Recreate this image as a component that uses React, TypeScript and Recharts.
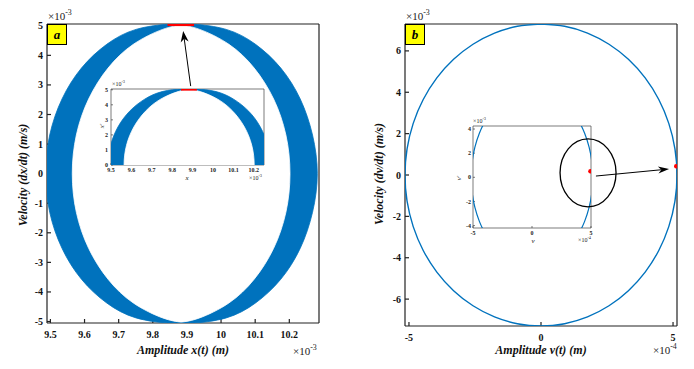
import React from 'react';
import { ScatterChart, Scatter, XAxis, YAxis, ReferenceDot, Curve } from 'recharts';

const BLUE = '#0072BD';
const RED = '#FF0000';
const SERIF = '"Liberation Serif", "Times New Roman", serif';

// ---- panel a : x(t) [x1e-3 m] vs dx/dt [x1e-3 m/s] ----
const aXTicks = [9.5, 9.6, 9.7, 9.8, 9.9, 10, 10.1, 10.2];
const aYTicks = [-5, -4, -3, -2, -1, 0, 1, 2, 3, 4, 5];
const aInsetYTicks = [0, 1, 2, 3, 4, 5];

// outer edge of the band (right / left halves)
const aOuterRight = [
  [9.883, 5.05], [9.922, 5.05], [10.015, 4.878], [10.101, 4.373], [10.175, 3.571], [10.232, 2.525],
  [10.268, 1.307], [10.282, 0], [10.268, -1.307], [10.232, -2.525], [10.175, -3.571], [10.101, -4.373],
  [10.015, -4.878], [9.922, -5.05], [9.883, -5.05],
];
const aOuterLeft = [
  [9.883, 5.05], [9.844, 5.05], [9.751, 4.878], [9.665, 4.373], [9.591, 3.571], [9.534, 2.525],
  [9.498, 1.307], [9.486, 0], [9.498, -1.307], [9.534, -2.525], [9.591, -3.571], [9.665, -4.373],
  [9.751, -4.878], [9.844, -5.05], [9.883, -5.05],
];
// inner (empty) region of the band
const aInnerRight = [
  [9.883, 5.02], [9.937, 4.878], [10.023, 4.373], [10.097, 3.571], [10.154, 2.525], [10.19, 1.307],
  [10.202, 0], [10.19, -1.307], [10.154, -2.525], [10.097, -3.571], [10.023, -4.373], [9.937, -4.878],
  [9.883, -5.02],
];
const aInnerLeft = [
  [9.883, 5.02], [9.829, 4.878], [9.743, 4.373], [9.669, 3.571], [9.612, 2.525], [9.576, 1.307],
  [9.564, 0], [9.576, -1.307], [9.612, -2.525], [9.669, -3.571], [9.743, -4.373], [9.829, -4.878],
  [9.883, -5.02],
];
const aRedSegment = [[9.843, 5.04], [9.921, 5.04]];
const aArrow = [[9.911, 2.96], [9.889, 4.82]];

// ---- panel b : v(t) [x1e-4 m] vs dv/dt [x1e-3 m/s] ----
const bXTicks = [-5, 0, 5];
const bYTicks = [-6, -4, -2, 0, 2, 4, 6];
const bInsetYTicks = [-4, -2, 0, 2, 4];
const bOrbit = [
  [0, 7.3], [0.894, 7.189], [1.761, 6.86], [2.575, 6.322], [3.31, 5.592], [3.945, 4.692],
  [4.46, 3.65], [4.839, 2.497], [5.072, 1.268], [5.15, 0], [5.072, -1.268], [4.839, -2.497],
  [4.46, -3.65], [3.945, -4.692], [3.31, -5.592], [2.575, -6.322], [1.761, -6.86], [0.894, -7.189],
  [0, -7.3], [-0.894, -7.189], [-1.761, -6.86], [-2.575, -6.322], [-3.31, -5.592], [-3.945, -4.692],
  [-4.46, -3.65], [-4.839, -2.497], [-5.072, -1.268], [-5.15, 0], [-5.072, 1.268], [-4.839, 2.497],
  [-4.46, 3.65], [-3.945, 4.692], [-3.31, 5.592], [-2.575, 6.322], [-1.761, 6.86], [-0.894, 7.189],
  [0, 7.3],
];
const bRedPoint = [[5.12, 0.42]];
const bInsetRedPoint = [[4.95, 0.5]];
const bInsetCircle = [4.75, 0.37];
const bArrow = [[2.08, -0.05], [4.85, 0.29]];

const pts = (a: number[][]) => a.map(([x, y]) => ({ x, y }));
const fmt = (v: number) => String(Math.round(v * 10) / 10);
const noDot = () => <g />;
const redDot = (p: any) => <circle cx={p.cx} cy={p.cy} r={2.2} fill={RED} />;

const frame = { stroke: '#222', strokeWidth: 1.2 };
const thin = { stroke: '#444', strokeWidth: 0.7 };
const tickMain = { fill: '#111', fontSize: 10, fontWeight: 'bold', fontFamily: SERIF };
const tickSmall = { fill: '#222', fontSize: 6, fontWeight: 'bold', fontFamily: SERIF };

// filled half-shape, with its closing chord painted too so two halves join without a seam
const halfShape = (color: string) => (p: any) => {
  const a = p.points[0];
  const b = p.points[p.points.length - 1];
  return (
    <g>
      <Curve points={p.points} type="natural" fill={color} stroke={color} strokeWidth={0.8} />
      <line x1={a.x} y1={a.y} x2={b.x} y2={b.y} stroke={color} strokeWidth={1.6} />
    </g>
  );
};

// annotation arrow drawn through the two points of a tiny series
const arrowLine = (head: number, half: number) => (p: any) => {
  const s = p.points[0];
  const e = p.points[1];
  const len = Math.hypot(e.x - s.x, e.y - s.y) || 1;
  const ux = (e.x - s.x) / len;
  const uy = (e.y - s.y) / len;
  const bx = e.x - ux * head;
  const by = e.y - uy * head;
  const nx = e.x - ux * head * 0.7;
  const ny = e.y - uy * head * 0.7;
  const poly = `${e.x},${e.y} ${bx - uy * half},${by + ux * half} ${nx},${ny} ${bx + uy * half},${by - ux * half}`;
  return (
    <g>
      <line x1={s.x} y1={s.y} x2={nx} y2={ny} stroke="#000" strokeWidth={1} />
      <polygon points={poly} fill="#000" />
    </g>
  );
};

function BandSeries() {
  return [
    <Scatter key="or" data={pts(aOuterRight)} isAnimationActive={false} shape={noDot} line={halfShape(BLUE)} />,
    <Scatter key="ol" data={pts(aOuterLeft)} isAnimationActive={false} shape={noDot} line={halfShape(BLUE)} />,
    <Scatter key="ir" data={pts(aInnerRight)} isAnimationActive={false} shape={noDot} line={halfShape('#fff')} />,
    <Scatter key="il" data={pts(aInnerLeft)} isAnimationActive={false} shape={noDot} line={halfShape('#fff')} />,
    <Scatter key="red" data={pts(aRedSegment)} isAnimationActive={false} shape={noDot}
      line={{ stroke: RED, strokeWidth: 3, fill: 'none' }} />,
  ];
}

function Exp({ left, top, p, size = 11 }: { left: number; top: number; p: string; size?: number }) {
  return (
    <div style={{ position: 'absolute', left, top, fontFamily: SERIF, fontSize: size, lineHeight: 1, whiteSpace: 'nowrap', color: '#222' }}>
      ×10<span style={{ fontSize: size * 0.72, position: 'relative', top: -size * 0.45 }}>{p}</span>
    </div>
  );
}

function Title({ cx, cy, text, vertical, size = 12, italic = true, bold = true }: any) {
  return (
    <div style={{
      position: 'absolute', left: cx - 100, top: cy - 7, width: 200, height: 14, lineHeight: '14px',
      textAlign: 'center', fontFamily: SERIF, fontSize: size, fontStyle: italic ? 'italic' : 'normal',
      fontWeight: bold ? 'bold' : 'normal', color: '#111', whiteSpace: 'nowrap',
      transform: vertical ? 'rotate(-90deg)' : undefined,
    }}>{text}</div>
  );
}

function Tag({ left, text }: { left: number; text: string }) {
  return (
    <div style={{
      position: 'absolute', left, top: 24, width: 18, height: 19, background: '#FFFF00',
      border: '1.5px solid #000', fontFamily: SERIF, fontWeight: 'bold', fontStyle: 'italic',
      fontSize: 13, lineHeight: '19px', textAlign: 'center',
    }}>{text}</div>
  );
}

function PanelA() {
  const xd: [number, number] = [9.49, 10.287];
  const yd: [number, number] = [-5.05, 5.06];
  return (
    <ScatterChart width={340} height={369} margin={{ top: 23, right: 20, bottom: 0, left: 0 }}>
      <XAxis type="number" dataKey="x" domain={xd} allowDataOverflow ticks={aXTicks} interval={0}
        tickFormatter={fmt} tickSize={-4} tickMargin={12} height={46} axisLine={frame} tickLine={frame} tick={tickMain} />
      <XAxis xAxisId="top" orientation="top" type="number" dataKey="x" domain={xd} allowDataOverflow ticks={aXTicks}
        interval={0} tick={false} tickSize={-4} height={1} axisLine={frame} tickLine={frame} />
      <YAxis type="number" dataKey="y" domain={yd} allowDataOverflow ticks={aYTicks} interval={0}
        tickSize={-4} tickMargin={8} width={47} axisLine={frame} tickLine={frame} tick={tickMain} />
      <YAxis yAxisId="right" orientation="right" type="number" dataKey="y" domain={yd} allowDataOverflow ticks={aYTicks}
        interval={0} tick={false} tickSize={-4} width={1} axisLine={frame} tickLine={frame} />
      {BandSeries()}
      <Scatter data={pts(aArrow)} isAnimationActive={false} shape={noDot} line={arrowLine(11, 4)} />
    </ScatterChart>
  );
}

function InsetA() {
  const xd: [number, number] = [9.5, 10.25];
  const yd: [number, number] = [0, 5.05];
  return (
    <ScatterChart width={190} height={100} margin={{ top: 8, right: 15, bottom: 0, left: 0 }}>
      <XAxis type="number" dataKey="x" domain={xd} allowDataOverflow ticks={aXTicks} interval={0}
        tickFormatter={fmt} tickSize={-2} tickMargin={5} height={15} axisLine={thin} tickLine={thin} tick={tickSmall} />
      <XAxis xAxisId="top" orientation="top" type="number" dataKey="x" domain={xd} allowDataOverflow ticks={aXTicks}
        interval={0} tick={false} tickSize={-2} height={1} axisLine={thin} tickLine={thin} />
      <YAxis type="number" dataKey="y" domain={yd} allowDataOverflow ticks={aInsetYTicks} interval={0}
        tickSize={-2} tickMargin={5} width={21} axisLine={thin} tickLine={thin} tick={tickSmall} />
      <YAxis yAxisId="right" orientation="right" type="number" dataKey="y" domain={yd} allowDataOverflow
        ticks={aInsetYTicks} interval={0} tick={false} tickSize={-2} width={1} axisLine={thin} tickLine={thin} />
      {BandSeries()}
    </ScatterChart>
  );
}

function PanelB() {
  const xd: [number, number] = [-5.15, 5.15];
  const yd: [number, number] = [-7.3, 7.3];
  return (
    <ScatterChart width={336} height={369} margin={{ top: 23, right: 16, bottom: 0, left: 0 }}>
      <XAxis type="number" dataKey="x" domain={xd} allowDataOverflow ticks={bXTicks} interval={0}
        tickSize={-4} tickMargin={12} height={43} axisLine={frame} tickLine={frame} tick={tickMain} />
      <XAxis xAxisId="top" orientation="top" type="number" dataKey="x" domain={xd} allowDataOverflow ticks={bXTicks}
        interval={0} tick={false} tickSize={-4} height={1} axisLine={frame} tickLine={frame} />
      <YAxis type="number" dataKey="y" domain={yd} allowDataOverflow ticks={bYTicks} interval={0}
        tickSize={-4} tickMargin={8} width={47} axisLine={frame} tickLine={frame} tick={tickMain} />
      <YAxis yAxisId="right" orientation="right" type="number" dataKey="y" domain={yd} allowDataOverflow ticks={bYTicks}
        interval={0} tick={false} tickSize={-4} width={1} axisLine={frame} tickLine={frame} />
      <Scatter data={pts(bOrbit)} isAnimationActive={false} shape={noDot}
        line={{ stroke: BLUE, strokeWidth: 1.4, fill: 'none' }} lineJointType="natural" />
      <Scatter data={pts(bRedPoint)} isAnimationActive={false} fill={RED} shape={redDot} />
      <Scatter data={pts(bArrow)} isAnimationActive={false} shape={noDot} line={arrowLine(11, 3.5)} />
    </ScatterChart>
  );
}

function InsetB() {
  const xd: [number, number] = [-5, 5];
  const yd: [number, number] = [-4.2, 4.25];
  return (
    <ScatterChart width={180} height={135} margin={{ top: 15, right: 33, bottom: 0, left: 0 }}>
      <XAxis type="number" dataKey="x" domain={xd} allowDataOverflow ticks={bXTicks} interval={0}
        tickSize={-2} tickMargin={5} height={17} axisLine={thin} tickLine={thin} tick={tickSmall} />
      <XAxis xAxisId="top" orientation="top" type="number" dataKey="x" domain={xd} allowDataOverflow ticks={bXTicks}
        interval={0} tick={false} tickSize={-2} height={1} axisLine={thin} tickLine={thin} />
      <YAxis type="number" dataKey="y" domain={yd} allowDataOverflow ticks={bInsetYTicks} interval={0}
        tickSize={-2} tickMargin={4} width={28} axisLine={thin} tickLine={thin} tick={tickSmall} />
      <YAxis yAxisId="right" orientation="right" type="number" dataKey="y" domain={yd} allowDataOverflow
        ticks={bInsetYTicks} interval={0} tick={false} tickSize={-2} width={1} axisLine={thin} tickLine={thin} />
      <Scatter data={pts(bOrbit)} isAnimationActive={false} shape={noDot}
        line={{ stroke: BLUE, strokeWidth: 1.2, fill: 'none' }} lineJointType="natural" />
      <Scatter data={pts(bInsetRedPoint)} isAnimationActive={false} fill={RED} shape={redDot} />
      <ReferenceDot x={bInsetCircle[0]} y={bInsetCircle[1]}
        shape={(p: any) => <ellipse cx={p.cx} cy={p.cy} rx={28} ry={34} fill="none" stroke="#000" strokeWidth={1.3} />} />
    </ScatterChart>
  );
}

export default function App() {
  return (
    <div style={{ position: 'absolute', left: 0, top: 0, width: 694, height: 369, background: '#fff', overflow: 'hidden' }}>
      <div style={{ position: 'absolute', left: 0, top: 0 }}><PanelA /></div>
      <div style={{ position: 'absolute', left: 358, top: 0 }}><PanelB /></div>
      <div style={{ position: 'absolute', left: 90, top: 80 }}><InsetA /></div>
      <div style={{ position: 'absolute', left: 445, top: 110 }}><InsetB /></div>

      <Tag left={47} text="a" />
      <Tag left={405} text="b" />

      <Exp left={48} top={11} p="-3" />
      <Exp left={293} top={346} p="-3" />
      <Exp left={406} top={11} p="-3" />
      <Exp left={653} top={345} p="-4" />
      <Exp left={112} top={81} p="-3" size={6} />
      <Exp left={249} top={175} p="-3" size={6} />
      <Exp left={473} top={118} p="-3" size={6} />
      <Exp left={578} top={237} p="-4" size={6} />

      <Title cx={183} cy={350} text="Amplitude x(t) (m)" />
      <Title cx={23} cy={175} text="Velocity (dx/dt) (m/s)" vertical />
      <Title cx={541} cy={350} text="Amplitude v(t) (m)" />
      <Title cx={379} cy={174} text="Velocity (dv/dt) (m/s)" vertical />

      <Title cx={187} cy={178} text="x" size={7} bold={false} />
      <Title cx={102} cy={126} text="x'" size={7} bold={false} vertical />
      <Title cx={533} cy={241} text="v" size={7} bold={false} />
      <Title cx={459} cy={178} text="v'" size={7} bold={false} vertical />
    </div>
  );
}
